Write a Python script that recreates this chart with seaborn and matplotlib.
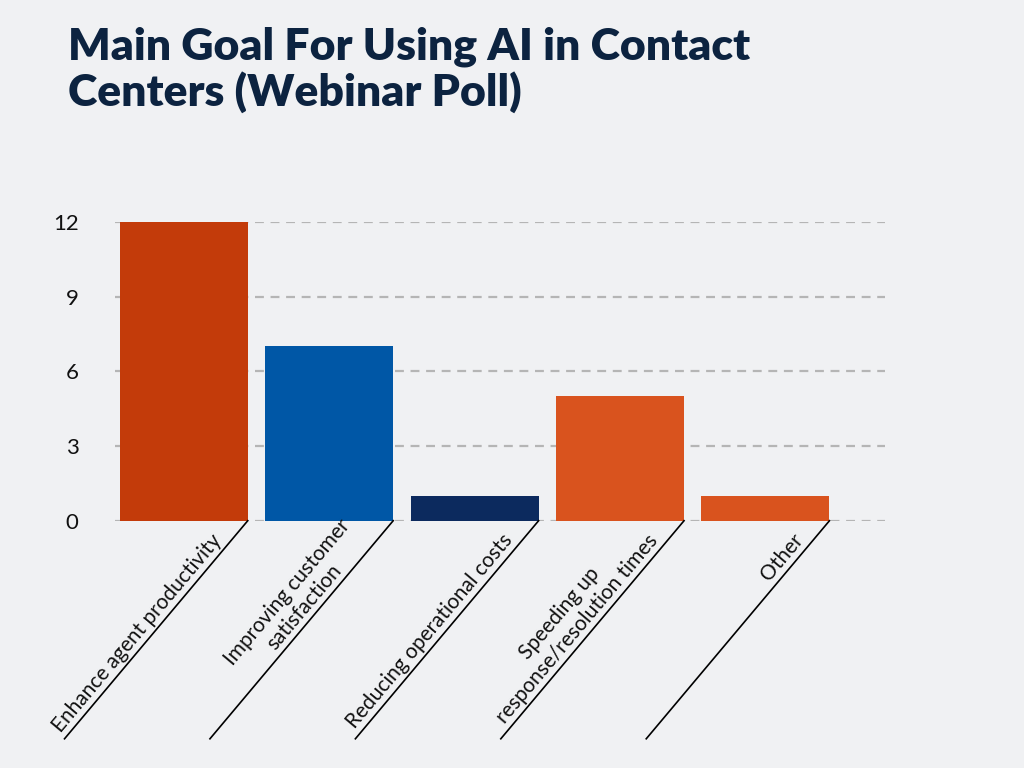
import matplotlib
matplotlib.use("Agg")
import matplotlib.pyplot as plt
import matplotlib.transforms as mtransforms
import seaborn as sns
import pandas as pd

categories = ["Enhance agent productivity", "Improving customer\nsatisfaction",
              "Reducing operational costs", "Speeding up\nresponse/resolution times", "Other"]
values = [12, 7, 1, 5, 1]
colors = ["#C33B0A", "#0057A6", "#0C2A5E", "#D9531E", "#D9531E"]
yticks = [0, 3, 6, 9, 12]

bg = "#F0F1F3"
navy = "#0C2340"
fig = plt.figure(figsize=(10.24, 7.68), dpi=100, facecolor=bg)
ax = fig.add_axes([0.112, 0.322, 0.752, 0.389], facecolor=bg)

df = pd.DataFrame({"cat": categories, "val": values})
sns.barplot(data=df, x="cat", y="val", hue="cat", palette=colors, legend=False,
            width=0.88, ax=ax, saturation=1)
for p in ax.patches:
    p.set_edgecolor("none")

ax.set_xlim(-0.475, 4.82)
ax.set_ylim(0, 12)
ax.set_yticks(yticks)
ax.set_yticklabels([str(t) for t in yticks], fontsize=16, color="#111111", family="Lato")
ax.yaxis.grid(True, linestyle=(0, (4, 3)), color="#B5B5B5", linewidth=1.6)
ax.set_axisbelow(True)
ax.tick_params(axis="y", length=0, pad=26)
ax.tick_params(axis="x", length=0)
ax.set_xticks([])
ax.set_xlabel("")
ax.set_ylabel("")
for s in ax.spines.values():
    s.set_visible(False)

trans = mtransforms.blended_transform_factory(ax.transData, ax.transAxes)
for i, c in enumerate(categories):
    ax.plot([i + 0.44, i - 0.82], [0, -0.73], transform=trans, color="black",
            lw=1.2, clip_on=False)
    ax.text(i + 0.29, -0.075, c, transform=trans, rotation=50, rotation_mode="anchor",
            ha="right", va="bottom", multialignment="center", fontsize=15,
            family="Lato", color="#111111")

fig.text(0.066, 0.965, "Main Goal For Using AI in Contact\nCenters (Webinar Poll)",
         ha="left", va="top", fontsize=32, fontweight="black", family="Lato",
         color=navy, linespacing=1.1)

fig.savefig("out.png", dpi=100, facecolor=bg)
